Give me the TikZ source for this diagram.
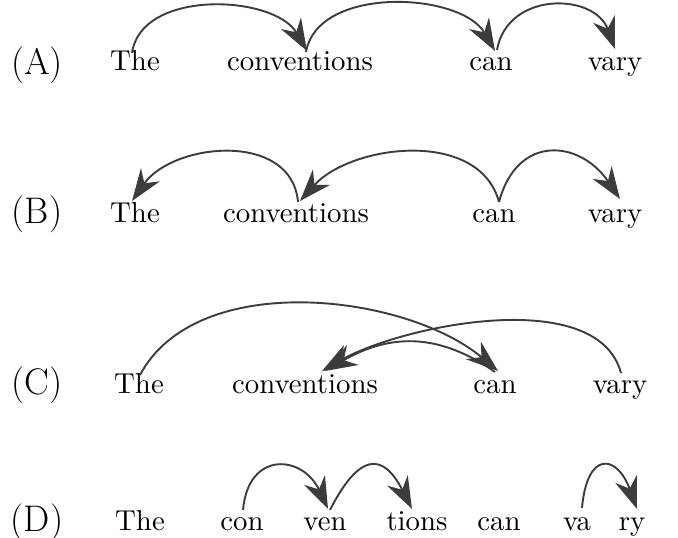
\documentclass[tikz,border=0pt]{standalone}
\usetikzlibrary{arrows.meta}
\definecolor{arcgray}{HTML}{3c3c3c}
\newcommand{\bigword}[1]{\scalebox{2.88}{#1}}
\tikzset{
  word/.style={inner sep=0pt, anchor=base, font=\fontsize{10}{12}\selectfont},
  lab/.style={inner sep=0pt, anchor=base, font=\fontsize{37}{42}\selectfont},
  dep/.style={draw=arcgray, line width=1.9pt, >={Stealth[length=32pt,width=23pt]}, ->}
}
\begin{document}
\begin{tikzpicture}[x=1pt,y=-1pt]
\useasboundingbox (0,0) rectangle (678,538);
% Row A
\node[lab]  (labA)  at (37,74)  {(A)};
\node[word] (theA)  at (135,70) {\bigword{The}};
\node[word] (convA) at (300,70) {\bigword{conventions}};
\node[word] (canA)  at (491,70) {\bigword{can}};
\node[word] (varyA) at (615,70) {\bigword{vary}};
% Row B
\node[lab]  (labB)  at (37,223)  {(B)};
\node[word] (theB)  at (135,222) {\bigword{The}};
\node[word] (convB) at (296,222) {\bigword{conventions}};
\node[word] (canB)  at (494,222) {\bigword{can}};
\node[word] (varyB) at (615,222) {\bigword{vary}};
% Row C
\node[lab]  (labC)  at (37,394)  {(C)};
\node[word] (theC)  at (139,393) {\bigword{The}};
\node[word] (convC) at (305,393) {\bigword{conventions}};
\node[word] (canC)  at (495,393) {\bigword{can}};
\node[word] (varyC) at (620,393) {\bigword{vary}};
% Row D
\node[lab]  (labD)  at (37,531)  {(D)};
\node[word] (theD)  at (140,530) {\bigword{The}};
\node[word] (conD)  at (242,530) {\bigword{con}};
\node[word] (venD)  at (325,530) {\bigword{ven}};
\node[word] (tionsD) at (417,530) {\bigword{tions}};
\node[word] (canD)  at (499,530) {\bigword{can}};
\node[word] (vaD)   at (577,530) {\bigword{va}};
\node[word] (ryD)   at (632,530) {\bigword{ry}};
% Arcs A
\draw[dep] ([xshift=-3pt,yshift=17pt]theA.base) to[out=82,in=120,looseness=0.95] ([xshift=7pt,yshift=19pt]convA.base);
\draw[dep] ([xshift=6pt,yshift=18pt]convA.base) to[out=80,in=120,looseness=0.92] ([xshift=4pt,yshift=19pt]canA.base);
\draw[dep] ([xshift=6pt,yshift=20pt]canA.base) to[out=80,in=110,looseness=1.3] ([xshift=0pt,yshift=21pt]varyA.base);
% Arcs B
\draw[dep] ([xshift=2pt,yshift=20pt]convB.base) to[out=95,in=55,looseness=1.1] ([xshift=-3pt,yshift=21pt]theB.base);
\draw[dep] ([xshift=5pt,yshift=20pt]canB.base) to[out=105,in=48,looseness=0.98] ([xshift=4pt,yshift=21pt]convB.base);
\draw[dep] ([xshift=5pt,yshift=20pt]canB.base) to[out=75,in=124,looseness=1.5] ([xshift=5pt,yshift=23pt]varyB.base);
% Arcs C
\draw[dep] ([xshift=1pt,yshift=18pt]theC.base) to[out=62,in=140,looseness=0.86] ([xshift=3pt,yshift=22pt]canC.base);
\draw[dep] ([xshift=1pt,yshift=20pt]varyC.base) to[out=105,in=30,looseness=0.78] ([xshift=17pt,yshift=22pt]convC.base);
\draw[dep] ([xshift=0pt,yshift=21pt]canC.base) to[out=145,in=30,looseness=1.08] ([xshift=20pt,yshift=22pt]convC.base);
% Arcs D
\draw[dep] ([xshift=1pt,yshift=20pt]conD.base) to[out=85,in=115,looseness=1.8] ([xshift=3pt,yshift=21pt]venD.base);
\draw[dep] ([xshift=5pt,yshift=20pt]venD.base) to[out=63,in=117,looseness=2.0] ([xshift=-5pt,yshift=21pt]tionsD.base);
\draw[dep] ([xshift=5pt,yshift=22pt]vaD.base) to[out=85,in=110,looseness=2.7] ([xshift=5pt,yshift=21pt]ryD.base);
\end{tikzpicture}
\end{document}
